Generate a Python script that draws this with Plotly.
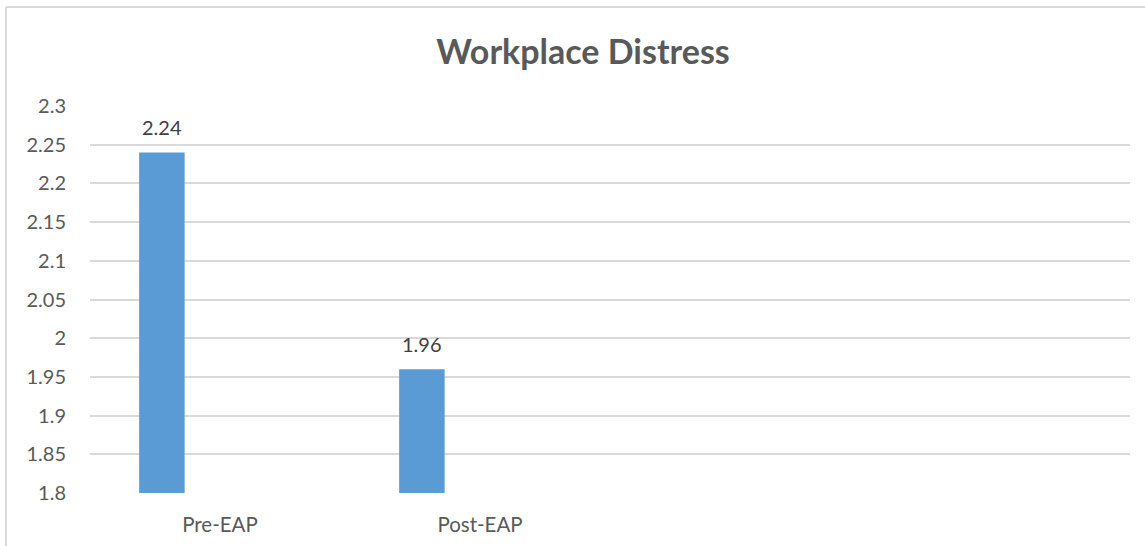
import plotly.graph_objects as go

# Workplace distress scores before and after the EAP
categories = ["Pre-EAP", "Post-EAP"]
scores = [2.24, 1.96]
y_ticks = [1.8, 1.85, 1.9, 1.95, 2.0, 2.05, 2.1, 2.15, 2.2, 2.25, 2.3]

FONT = "Lato"
GRID = "#d9d9d9"
TEXT = "#595959"
BAR_OFFSET = -0.311   # bar sits left of the category centre
BAR_WIDTH = 0.175

fig = go.Figure(
    go.Bar(
        x=categories,
        y=scores,
        marker=dict(color="#5b9bd5", line=dict(width=0)),
        width=BAR_WIDTH,
        offset=BAR_OFFSET,
        hoverinfo="x+y",
    )
)

# value labels above each bar
for cat, val in zip(categories, scores):
    fig.add_annotation(
        x=cat, y=val, xref="x", yref="y",
        text=f"{val:.2f}",
        showarrow=False,
        xshift=(BAR_OFFSET + BAR_WIDTH / 2) * 260,
        yshift=25,
        yanchor="middle",
        font=dict(family=FONT, size=20, color="#404040"),
    )

fig.update_layout(
    width=1145,
    height=546,
    margin=dict(l=90, r=15, t=106, b=53),
    paper_bgcolor="white",
    plot_bgcolor="white",
    showlegend=False,
    title=dict(
        text="<b>Workplace Distress</b>",
        x=583 / 1145,
        xanchor="center",
        y=1 - 52 / 546,
        yanchor="middle",
        font=dict(family=FONT, size=34, color=TEXT),
    ),
    xaxis=dict(
        type="category",
        range=[-0.5, 3.5],
        showgrid=False,
        showline=False,
        ticks="",
        automargin=False,
        tickfont=dict(family=FONT, size=20.5, color=TEXT),
        ticklabelstandoff=17,
    ),
    yaxis=dict(
        range=[1.8, 2.3],
        tickvals=y_ticks,
        ticktext=[f"{v:g}" for v in y_ticks],
        showgrid=True,
        gridcolor=GRID,
        gridwidth=1.5,
        zeroline=False,
        showline=False,
        ticks="",
        automargin=False,
        tickfont=dict(family=FONT, size=20, color=TEXT),
        ticklabelstandoff=23,
    ),
    shapes=[
        # chart frame: left and top edges
        dict(type="line", xref="paper", yref="paper",
             x0=(6 - 90) / 1040, x1=(6 - 90) / 1040,
             y0=(493 - 7) / 387, y1=(493 - 560) / 387,
             line=dict(color=GRID, width=2)),
        dict(type="line", xref="paper", yref="paper",
             x0=(6 - 90) / 1040, x1=(1160 - 90) / 1040,
             y0=(493 - 7) / 387, y1=(493 - 7) / 387,
             line=dict(color=GRID, width=2)),
    ],
)

fig.write_html("out.html")
